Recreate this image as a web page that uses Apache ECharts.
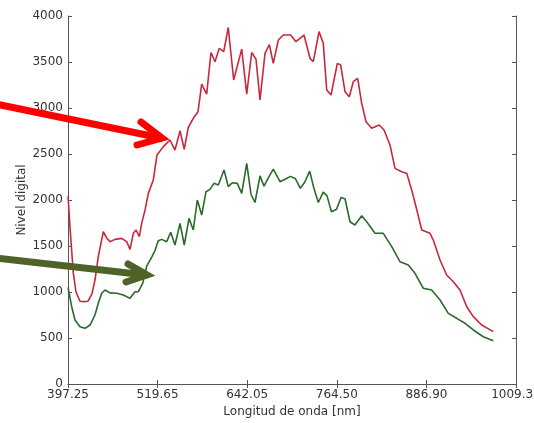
<!DOCTYPE html>
<html>
<head>
<meta charset="utf-8">
<script src="https://cdn.jsdelivr.net/npm/echarts@6/dist/echarts.min.js"></script>
<style>html,body{margin:0;padding:0;background:#fff}#c{width:534px;height:423px}</style>
</head>
<body>
<div id="c"></div>
<script>
var xTicks = [397.25, 519.65, 642.05, 764.50, 886.90, 1009.30];
var yTicks = [0, 500, 1000, 1500, 2000, 2500, 3000, 3500, 4000];

var redNm = [397.3,400.0,404.5,408.2,413.6,419.1,424.6,430.0,434.1,438.6,445.5,450.1,454.6,461.5,470.6,477.4,482.0,486.5,490.2,494.7,497.9,502.5,507.0,513.8,518.8,527.5,536.6,543.4,550.3,556.1,561.6,568.4,574.9,579.9,586.7,592.6,598.1,603.8,610.0,616.2,623.6,634.6,641.4,648.2,654.1,659.6,666.4,672.3,677.7,684.6,691.4,701.5,708.7,719.7,727.9,732.4,740.2,746.0,750.7,756.6,765.2,769.8,775.7,781.6,787.0,793.0,798.5,804.4,812.2,822.5,829.0,837.2,844.0,853.1,860.0,866.8,873.6,880.5,891.8,896.3,905.5,914.6,923.6,932.8,942.0,951.0,962.4,978.3];
var redVal = [2040,1700,1206,1000,900,895,900,980,1130,1384,1655,1587,1547,1572,1583,1547,1464,1638,1674,1601,1746,1891,2072,2217,2489,2580,2652,2543,2752,2552,2788,2888,2960,3260,3150,3603,3503,3648,3612,3875,3304,3640,3150,3603,3530,3087,3594,3690,3485,3739,3793,3793,3721,3793,3540,3503,3830,3703,3196,3141,3485,3467,3177,3123,3286,3322,3051,2851,2779,2815,2761,2598,2344,2308,2290,2109,1900,1674,1638,1565,1348,1185,1112,1022,840,732,641,569];

var greenNm = [397.3,402.3,406.8,413.6,420.5,427.3,434.1,438.6,443.3,447.8,454.6,463.8,472.8,482.0,488.8,493.3,499.3,504.8,511.6,516.1,520.6,525.3,532.1,537.6,543.4,550.3,556.1,562.6,568.4,573.9,579.9,585.8,591.2,596.7,602.6,610.4,616.2,621.7,628.5,634.6,641.4,647.3,652.7,659.6,665.0,670.9,677.7,686.9,693.7,701.2,708.1,714.6,720.4,727.5,732.6,739.2,746.0,751.1,757.2,764.1,770.2,775.7,782.5,789.3,798.5,805.3,816.7,828.0,839.5,850.8,862.2,871.3,882.7,894.1,905.5,916.8,928.3,939.6,951.0,964.6,978.3];
var greenVal = [1050,840,696,623,605,641,750,877,986,1022,990,986,967,931,1003,1003,1094,1280,1380,1450,1556,1572,1547,1650,1511,1746,1511,1800,1674,2000,1837,2090,2116,2181,2163,2326,2145,2188,2181,2072,2398,2060,1973,2262,2150,2240,2335,2199,2226,2257,2230,2127,2190,2313,2145,1973,2085,2045,1873,1900,2027,2014,1764,1728,1828,1764,1638,1638,1493,1330,1293,1203,1040,1022,913,768,714,660,587,514,471];

function pairs(xs, ys) { return xs.map(function (x, i) { return [x, ys[i]]; }); }

var FONT = 'DejaVu Sans';
var AXC = '#555';
var chart = echarts.init(document.getElementById('c'), null, {renderer: 'canvas'});

var xBase = {
  type: 'value', min: xTicks[0], max: xTicks[xTicks.length - 1],
  splitLine: {show: false},
  axisLine: {show: true, lineStyle: {color: AXC, width: 1}},
  axisTick: {show: true, inside: true, length: 4, lineStyle: {color: AXC}, customValues: xTicks},
  axisLabel: {show: true, customValues: xTicks, margin: 5, color: '#333', fontFamily: FONT, fontSize: 12,
    formatter: function (v) { return v.toFixed(2); }}
};
var xTop = JSON.parse(JSON.stringify(xBase));
xTop.position = 'top';
xTop.axisLabel = {show: false, customValues: xTicks};

var yBase = {
  type: 'value', min: yTicks[0], max: yTicks[yTicks.length - 1], interval: 500,
  splitLine: {show: false},
  axisLine: {show: true, lineStyle: {color: AXC, width: 1}},
  axisTick: {show: true, inside: true, length: 4, lineStyle: {color: AXC}},
  axisLabel: {show: true, margin: 5, color: '#333', fontFamily: FONT, fontSize: 12,
    formatter: function (v) { return String(v); }}
};
var yRight = JSON.parse(JSON.stringify(yBase));
yRight.position = 'right';
yRight.axisLabel = {show: false};

xBase.name = 'Longitud de onda [nm]';
xBase.nameLocation = 'middle';
xBase.nameGap = 20;
xBase.nameTextStyle = {color: '#333', fontFamily: FONT, fontSize: 12};
yBase.name = 'Nivel digital';
yBase.nameLocation = 'middle';
yBase.nameGap = 40;
yBase.nameMoveOverlap = false;
yBase.nameTextStyle = {color: '#333', fontFamily: FONT, fontSize: 12};

chart.setOption({
  animation: false,
  backgroundColor: '#fff',
  grid: {left: 68, top: 16, right: 18, bottom: 39, containLabel: false, outerBoundsMode: 'none'},
  xAxis: [xBase, xTop],
  yAxis: [yBase, yRight],
  series: [
    {type: 'line', xAxisIndex: 0, yAxisIndex: 0, data: pairs(redNm, redVal), symbol: 'none',
      lineStyle: {color: '#c8283c', width: 1.6}, z: 3},
    {type: 'line', xAxisIndex: 0, yAxisIndex: 0, data: pairs(greenNm, greenVal), symbol: 'none',
      lineStyle: {color: '#2a6a2a', width: 1.6}, z: 3}
  ],
  graphic: [
    {type: 'line', shape: {x1: -4, y1: 104, x2: 161, y2: 138}, style: {stroke: '#ff0000', lineWidth: 7, lineCap: 'round'}, z: 10},
    {type: 'polyline', shape: {points: [[141, 122], [162, 138], [137, 145]]}, style: {stroke: '#ff0000', fill: null, lineWidth: 7, lineCap: 'round', lineJoin: 'miter'}, z: 10},
    {type: 'line', shape: {x1: -4, y1: 258, x2: 146, y2: 275}, style: {stroke: '#4f6228', lineWidth: 7, lineCap: 'round'}, z: 10},
    {type: 'polyline', shape: {points: [[128, 264], [147, 275], [126, 282]]}, style: {stroke: '#4f6228', fill: null, lineWidth: 7, lineCap: 'round', lineJoin: 'miter'}, z: 10}
  ]
});
</script>
</body>
</html>
